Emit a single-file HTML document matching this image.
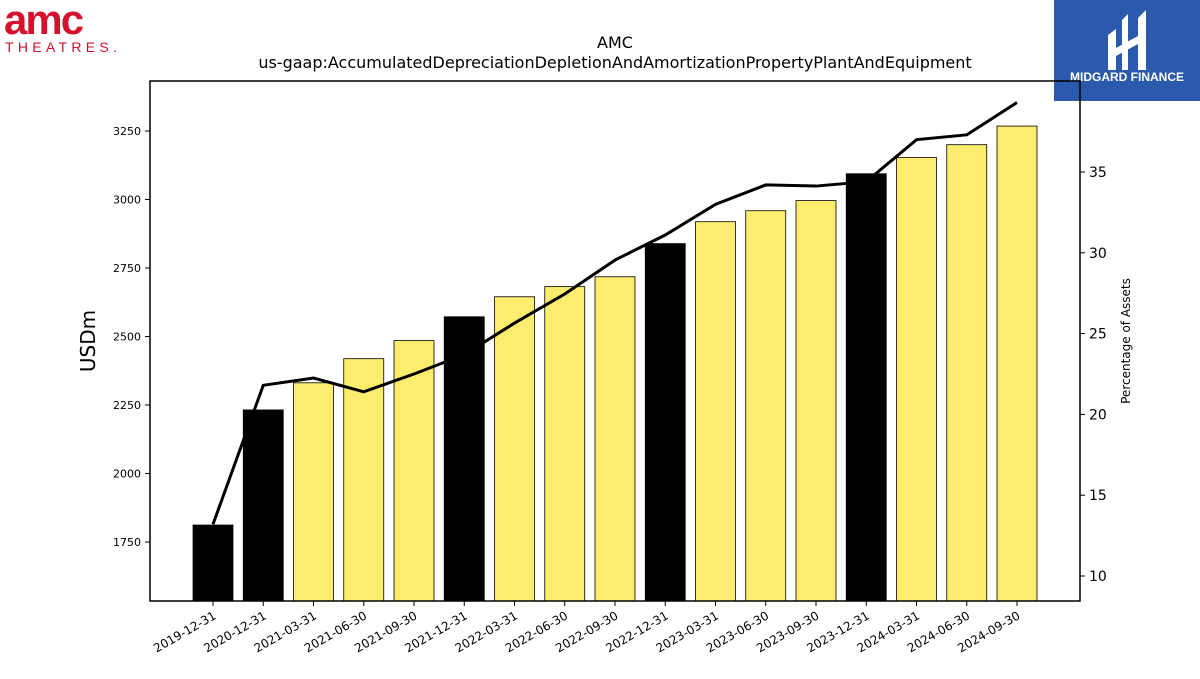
<!DOCTYPE html>
<html><head><meta charset="utf-8"><style>
body{margin:0;background:#fff;font-family:"DejaVu Sans","Liberation Sans",sans-serif;}
</style></head><body>
<svg id="c" width="1200" height="675" xmlns="http://www.w3.org/2000/svg">
<g>
<text x="4" y="34" font-family="Liberation Sans" font-weight="bold" font-size="42" fill="#d6112e" letter-spacing="-2">amc</text>
<text x="5" y="52" font-family="Liberation Sans" font-size="14" fill="#d6112e" letter-spacing="4.3">THEATRES.</text>
</g>
<g>
<rect x="1054" y="0" width="146" height="101" fill="#2b5aad"/>
<path d="M1108,35 L1116,29 L1116,70 L1108,70 Z M1122,20 L1128,14 L1128,70 L1122,70 Z M1138,18 L1146,10 L1146,70 L1138,70 Z M1116,48 L1138,36 L1138,44 L1116,56 Z" fill="#fff"/>
<text x="1127" y="81" text-anchor="middle" font-family="Liberation Sans" font-weight="bold" font-size="12" fill="#fff">MIDGARD FINANCE</text>
</g>
<text x="615" y="48" text-anchor="middle" font-size="16">AMC</text>
<text x="615" y="68" text-anchor="middle" font-size="16">us-gaap:AccumulatedDepreciationDepletionAndAmortizationPropertyPlantAndEquipment</text>
<g id="plot"></g>
<text transform="translate(95,341) rotate(-90)" text-anchor="middle" font-size="20">USDm</text>
<text transform="translate(1130,341) rotate(-90)" text-anchor="middle" font-size="12">Percentage of Assets</text>
</svg>
<script>
const categories=["2019-12-31","2020-12-31","2021-03-31","2021-06-30","2021-09-30","2021-12-31","2022-03-31","2022-06-30","2022-09-30","2022-12-31","2023-03-31","2023-06-30","2023-09-30","2023-12-31","2024-03-31","2024-06-30","2024-09-30"];
const values=[1812,2232,2331,2419,2485,2572,2645,2682,2718,2839,2919,2959,2996,3094,3153,3200,3268];
const pct=[13.2,21.8,22.25,21.4,22.5,23.7,25.65,27.45,29.55,31.1,33.0,34.2,34.13,34.4,37.0,37.3,39.3];
const leftTicks=[1750,2000,2250,2500,2750,3000,3250];
const rightTicks=[10,15,20,25,30,35];
const L=150,R=1080,T=81,B=601;
const y=v=>542-(v-1750)*(411/1500);
const y2=v=>576-(v-10)*(404/25);
const x=i=>213+i*50.25;
const NS="http://www.w3.org/2000/svg",g=document.getElementById('plot');
function el(t,a){const e=document.createElementNS(NS,t);for(const k in a)e.setAttribute(k,a[k]);g.appendChild(e);return e;}
values.forEach((v,i)=>{const annual=categories[i].endsWith("12-31");
const r=el('rect',{x:x(i)-20,y:y(v),width:40,height:B-y(v),fill:annual?'#000':'#feec6f',stroke:'#000','stroke-width':0.8});


const tk=el('line',{x1:x(i),x2:x(i),y1:B,y2:B+5,stroke:'#000'});


const t=el('text',{transform:`translate(${x(i)+4},${B+17}) rotate(-30)`,'text-anchor':'end','font-size':12});
t.textContent=categories[i];

});
leftTicks.forEach(v=>{const tk=el('line',{x1:L-5,x2:L,y1:y(v),y2:y(v),stroke:'#000'});


const t=el('text',{x:L-9,y:y(v)+4,'text-anchor':'end','font-size':11});t.textContent=v;

});
rightTicks.forEach(v=>{const tk=el('line',{x1:R,x2:R+5,y1:y2(v),y2:y2(v),stroke:'#000'});


const t=el('text',{x:R+9,y:y2(v)+5,'font-size':14});t.textContent=v;

});
const p=el('polyline',{points:pct.map((v,i)=>x(i)+','+y2(v)).join(' '),fill:'none',stroke:'#000','stroke-width':3});


const f=el('rect',{x:L,y:T,width:R-L,height:B-T,fill:'none',stroke:'#000','stroke-width':1.5});


</script>
</body></html>
